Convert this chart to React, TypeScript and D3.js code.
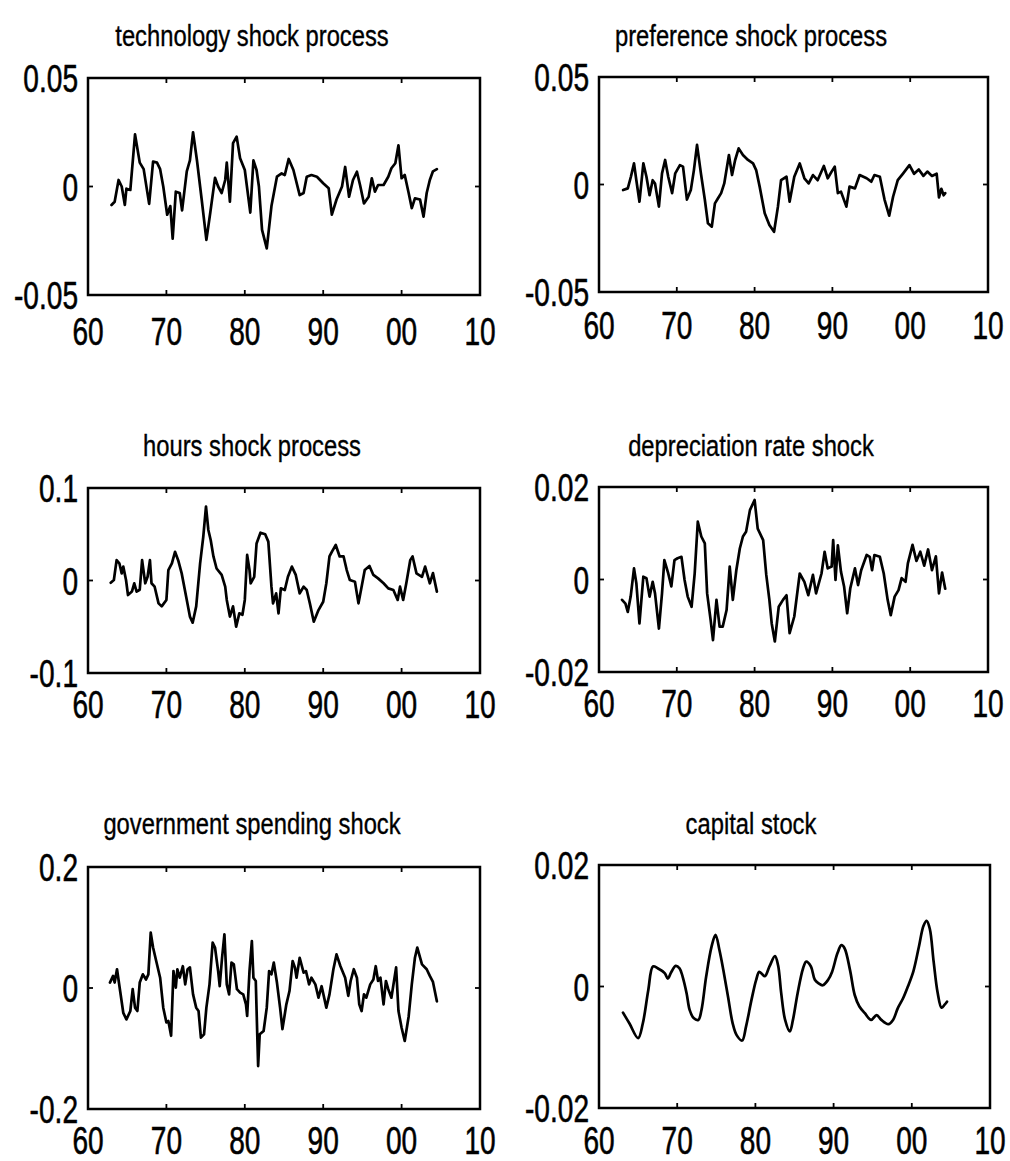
import React from "react";
import * as d3 from "d3";

type Pt = [number, number];

// x axis: two-digit year ticks
const xTicks = [1960, 1970, 1980, 1990, 2000, 2010];
const xTickLabels = ["60", "70", "80", "90", "00", "10"];

const titles = [
  "technology shock process",
  "preference shock process",
  "hours shock process",
  "depreciation rate shock",
  "government spending shock",
  "capital stock",
];

const yLimits = [0.05, 0.05, 0.1, 0.02, 0.2, 0.02];
const yTickLabels = [
  ["0.05", "0", "-0.05"],
  ["0.05", "0", "-0.05"],
  ["0.1", "0", "-0.1"],
  ["0.02", "0", "-0.02"],
  ["0.2", "0", "-0.2"],
  ["0.02", "0", "-0.02"],
];

const technology: Pt[] = [
  [1963.0, -0.0085], [1963.4, -0.007], [1963.9, 0.003], [1964.3, 0.0], [1964.7, -0.0085],
  [1964.9, -0.001], [1965.4, -0.0016], [1966.0, 0.024], [1966.6, 0.011], [1967.1, 0.008],
  [1967.8, -0.008], [1968.3, 0.0115], [1968.8, 0.011], [1969.2, 0.008], [1969.6, 0.0],
  [1970.1, -0.013], [1970.5, -0.009], [1970.8, -0.024], [1971.2, -0.0024], [1971.7, -0.003],
  [1972.0, -0.011], [1972.6, 0.007], [1973.0, 0.012], [1973.4, 0.025], [1973.9, 0.012],
  [1974.5, -0.006], [1975.1, -0.0246], [1975.6, -0.012], [1976.2, 0.004], [1976.6, 0.0],
  [1977.05, -0.003], [1977.5, 0.003], [1977.7, 0.011], [1978.1, -0.007], [1978.5, 0.02],
  [1978.96, 0.023], [1979.4, 0.013], [1980.0, 0.0076], [1980.7, -0.012], [1981.1, 0.012],
  [1981.5, 0.0076], [1981.8, 0.0], [1982.2, -0.02], [1982.8, -0.0285], [1983.4, -0.009],
  [1984.1, 0.0045], [1984.7, 0.006], [1985.1, 0.0053], [1985.6, 0.0127], [1986.2, 0.0076],
  [1987.0, -0.004], [1987.5, -0.003], [1987.9, 0.0045], [1988.5, 0.0053], [1989.2, 0.0045],
  [1990.0, 0.0015], [1990.7, -0.0008], [1991.1, -0.013], [1991.7, -0.006], [1992.4, 0.0],
  [1992.8, 0.009], [1993.3, -0.0047], [1993.8, 0.003], [1994.3, 0.0068], [1994.7, 0.0007],
  [1995.2, -0.0078], [1995.8, -0.0047], [1996.2, 0.0038], [1996.6, -0.0024], [1997.0, 0.0007],
  [1997.7, 0.0007], [1998.3, 0.0045], [1998.7, 0.0084], [1999.2, 0.0107], [1999.6, 0.019],
  [2000.0, 0.0038], [2000.4, 0.0053], [2000.9, -0.003], [2001.3, -0.01], [2001.7, -0.0055],
  [2002.35, -0.006], [2002.8, -0.0139], [2003.2, -0.003], [2003.6, 0.003], [2004.0, 0.007],
  [2004.5, 0.008],
];

const preference: Pt[] = [
  [1963.1, -0.0026], [1963.7, -0.0018], [1964.1, 0.0036], [1964.5, 0.0098], [1964.8, 0.002],
  [1965.2, -0.008], [1965.7, 0.0098], [1966.1, 0.0036], [1966.5, -0.005], [1966.9, 0.002],
  [1967.2, 0.0005], [1967.7, -0.0103], [1968.1, 0.0052], [1968.5, 0.0114], [1968.9, 0.0036],
  [1969.4, -0.004], [1969.8, 0.0052], [1970.4, 0.009], [1970.8, 0.0083], [1971.3, -0.007],
  [1971.8, -0.0026], [1972.2, 0.0067], [1972.6, 0.0184], [1973.1, 0.0052], [1973.6, -0.007],
  [1974.0, -0.018], [1974.5, -0.0196], [1974.9, -0.0088], [1975.3, -0.0064], [1975.7, -0.004],
  [1976.1, 0.0005], [1976.7, 0.0137], [1977.1, 0.0044], [1977.5, 0.0114], [1977.95, 0.0168],
  [1978.5, 0.0137], [1979.15, 0.0114], [1979.8, 0.0098], [1980.2, 0.0067], [1980.65, -0.001],
  [1981.3, -0.0134], [1981.9, -0.0188], [1982.5, -0.022], [1983.0, -0.0103], [1983.4, 0.002],
  [1984.1, 0.0036], [1984.5, -0.008], [1985.1, 0.0036], [1985.8, 0.0098], [1986.4, 0.0029],
  [1986.95, 0.0005], [1987.5, 0.0044], [1988.1, 0.002], [1988.9, 0.0086], [1989.4, 0.0029],
  [1989.9, 0.006], [1990.3, 0.0083], [1990.7, -0.004], [1991.1, -0.0033], [1991.8, -0.0103],
  [1992.2, -0.001], [1992.9, -0.0018], [1993.5, 0.0044], [1994.4, 0.0029], [1995.0, 0.0013],
  [1995.4, 0.0044], [1996.1, 0.0036], [1996.7, -0.007], [1997.3, -0.0145], [1997.8, -0.0057],
  [1998.4, 0.002], [1999.1, 0.0052], [1999.9, 0.009], [2000.5, 0.005], [2001.1, 0.007],
  [2001.7, 0.004], [2002.2, 0.006], [2002.8, 0.004], [2003.4, 0.005], [2003.7, -0.006],
  [2004.0, -0.002], [2004.3, -0.005], [2004.5, -0.004],
];

const hours: Pt[] = [
  [1962.9, -0.0024], [1963.3, 0.0005], [1963.65, 0.022], [1964.0, 0.0186], [1964.3, 0.0077],
  [1964.5, 0.015], [1964.85, 0.0005], [1965.1, -0.0157], [1965.6, -0.012], [1965.9, -0.003],
  [1966.2, -0.012], [1966.6, -0.01], [1966.9, 0.022], [1967.3, -0.003], [1967.6, 0.004],
  [1967.9, 0.022], [1968.1, -0.003], [1968.5, -0.0067], [1969.0, -0.0247], [1969.4, -0.028],
  [1970.0, -0.021], [1970.25, 0.0113], [1970.7, 0.0186], [1971.1, 0.031], [1971.5, 0.022],
  [1971.95, 0.0077], [1972.6, -0.021], [1973.0, -0.039], [1973.35, -0.0456], [1973.8, -0.028],
  [1974.3, 0.0186], [1974.7, 0.047], [1975.05, 0.08], [1975.35, 0.0546], [1975.65, 0.0438],
  [1976.0, 0.026], [1976.4, 0.013], [1977.05, 0.006], [1977.5, -0.0067], [1977.7, -0.021],
  [1978.1, -0.039], [1978.5, -0.028], [1978.9, -0.05], [1979.3, -0.0355], [1979.7, -0.037],
  [1980.0, -0.021], [1980.3, 0.0276], [1980.6, 0.0113], [1980.75, -0.003], [1981.2, 0.004],
  [1981.5, 0.04], [1982.0, 0.0517], [1982.6, 0.05], [1983.0, 0.042], [1983.4, -0.0067],
  [1983.6, -0.0247], [1984.0, -0.0139], [1984.3, -0.0355], [1984.6, -0.0085], [1985.1, -0.0103],
  [1985.5, 0.004], [1986.0, 0.015], [1986.5, 0.006], [1987.0, -0.0139], [1987.5, -0.0067],
  [1987.9, -0.0103], [1988.3, -0.0247], [1988.8, -0.0445], [1989.4, -0.032], [1990.0, -0.023],
  [1990.4, -0.003], [1990.8, 0.026], [1991.1, 0.031], [1991.6, 0.0384], [1992.1, 0.026],
  [1992.6, 0.026], [1993.0, 0.0113], [1993.4, 0.0005], [1994.05, -0.0013], [1994.5, -0.0247],
  [1994.9, -0.0067], [1995.3, 0.0113], [1995.9, 0.0157], [1996.4, 0.006], [1997.0, 0.0023],
  [1997.7, -0.003], [1998.3, -0.0085], [1998.95, -0.0103], [1999.5, -0.021], [1999.8, -0.0067],
  [2000.2, -0.021], [2000.6, -0.003], [2001.1, 0.022], [2001.4, 0.026], [2001.9, 0.0077],
  [2002.6, 0.004], [2003.0, 0.015], [2003.6, -0.003], [2004.0, 0.008], [2004.5, -0.012],
];

const depreciation: Pt[] = [
  [1962.96, -0.0044], [1963.4, -0.0052], [1963.7, -0.007], [1964.07, -0.0037], [1964.5, 0.0024],
  [1964.8, -0.0008], [1965.2, -0.0095], [1965.7, 0.0006], [1966.1, 0.0003], [1966.5, -0.0037],
  [1966.9, -0.0005], [1967.2, -0.003], [1967.7, -0.0106], [1968.1, -0.003], [1968.4, 0.0042],
  [1968.9, 0.0013], [1969.3, -0.0015], [1969.7, 0.0042], [1970.1, 0.0046], [1970.6, 0.0049],
  [1971.0, -0.0001], [1971.4, -0.0037], [1971.9, -0.0059], [1972.3, 0.0013], [1972.7, 0.0125],
  [1973.15, 0.0093], [1973.6, 0.0078], [1973.9, -0.003], [1974.35, -0.0088], [1974.65, -0.0131],
  [1975.1, -0.0044], [1975.5, -0.0102], [1975.9, -0.0102], [1976.4, -0.0066], [1976.8, 0.0028],
  [1977.2, -0.0044], [1977.65, 0.002], [1978.1, 0.0067], [1978.5, 0.0093], [1978.9, 0.0103],
  [1979.4, 0.015], [1980.0, 0.0172], [1980.4, 0.011], [1981.1, 0.0085], [1981.5, 0.001],
  [1981.9, -0.0044], [1982.2, -0.0095], [1982.6, -0.0134], [1983.1, -0.0059], [1983.65, -0.0044],
  [1984.1, -0.0034], [1984.5, -0.0116], [1985.1, -0.008], [1985.8, 0.0013], [1986.4, -0.0005],
  [1986.9, -0.0034], [1987.5, 0.001], [1987.9, -0.003], [1988.6, 0.0013], [1989.0, 0.006],
  [1989.4, 0.0024], [1989.9, 0.0028], [1990.1, 0.0085], [1990.4, -0.0001], [1990.7, 0.0074],
  [1991.1, 0.0017], [1991.5, -0.0015], [1991.9, -0.0073], [1992.3, -0.0019], [1992.9, 0.0024],
  [1993.3, -0.0012], [1993.7, 0.002], [1994.4, 0.0053], [1994.8, 0.0049], [1995.1, 0.002],
  [1995.4, 0.0053], [1996.1, 0.0049], [1996.6, 0.0013], [1997.1, -0.0044], [1997.5, -0.0077],
  [1998.0, -0.0037], [1998.5, -0.0023], [1998.9, 0.0003], [1999.4, -0.0005], [1999.7, 0.0035],
  [2000.3, 0.0075], [2000.8, 0.004], [2001.3, 0.006], [2001.8, 0.003], [2002.3, 0.0065],
  [2002.8, 0.002], [2003.3, 0.005], [2003.7, -0.003], [2004.1, 0.0015], [2004.5, -0.002],
];

const government: Pt[] = [
  [1962.8, 0.009], [1963.2, 0.02], [1963.4, 0.009], [1963.7, 0.031], [1964.1, -0.005],
  [1964.5, -0.041], [1964.9, -0.052], [1965.4, -0.038], [1965.7, -0.002], [1966.0, -0.0325],
  [1966.3, -0.038], [1966.6, 0.009], [1967.0, 0.0226], [1967.4, 0.014], [1967.7, 0.0226],
  [1968.0, 0.0915], [1968.3, 0.067], [1968.7, 0.0446], [1969.2, 0.017], [1969.6, -0.0325],
  [1970.0, -0.057], [1970.25, -0.0545], [1970.6, -0.079], [1970.9, 0.028], [1971.2, 0.0006],
  [1971.4, 0.031], [1971.7, 0.017], [1972.1, 0.036], [1972.4, 0.006], [1972.7, 0.031],
  [1973.0, 0.034], [1973.4, -0.0105], [1973.8, -0.0325], [1974.1, -0.038], [1974.4, -0.082],
  [1974.8, -0.0766], [1975.1, -0.0325], [1975.5, 0.006], [1975.9, 0.075], [1976.2, 0.067],
  [1976.6, 0.028], [1976.8, 0.003], [1977.1, 0.05], [1977.4, 0.0887], [1977.7, 0.006],
  [1978.0, -0.0105], [1978.3, 0.042], [1978.6, 0.039], [1979.0, -0.002], [1979.4, -0.0077],
  [1979.8, -0.0105], [1980.15, -0.027], [1980.3, -0.046], [1980.6, 0.028], [1980.9, 0.0777],
  [1981.1, 0.017], [1981.4, 0.0116], [1981.6, -0.082], [1981.7, -0.129], [1981.9, -0.0766],
  [1982.4, -0.071], [1982.8, -0.0325], [1983.1, 0.028], [1983.4, 0.0226], [1983.7, 0.042],
  [1984.1, 0.009], [1984.5, -0.0325], [1984.8, -0.068], [1985.3, -0.027], [1985.7, -0.005],
  [1986.1, 0.0446], [1986.4, 0.0336], [1986.6, 0.017], [1987.0, 0.05], [1987.5, 0.0253],
  [1987.8, 0.028], [1988.2, 0.006], [1988.5, 0.017], [1989.0, 0.006], [1989.4, -0.016],
  [1989.8, 0.003], [1990.4, -0.0325], [1990.8, -0.0105], [1991.3, 0.031], [1991.7, 0.0556],
  [1992.2, 0.036], [1992.8, 0.017], [1993.2, -0.013], [1993.5, 0.0116], [1993.9, 0.031],
  [1994.3, 0.017], [1994.6, -0.027], [1994.9, -0.038], [1995.2, -0.0105], [1995.5, -0.016],
  [1996.0, 0.006], [1996.4, 0.014], [1996.7, 0.036], [1997.0, 0.0116], [1997.3, 0.017],
  [1997.7, -0.027], [1998.0, 0.0116], [1998.3, -0.002], [1998.7, -0.016], [1998.9, 0.0006],
  [1999.3, 0.034], [1999.6, -0.038], [2000.0, -0.0656], [2000.4, -0.0876], [2000.9, -0.047],
  [2001.3, 0.006], [2001.7, 0.05], [2002.0, 0.0667], [2002.6, 0.039], [2003.2, 0.031],
  [2003.6, 0.02], [2004.0, 0.01], [2004.5, -0.022],
];

const capital: Pt[] = [
  [1963.07, -0.0043], [1963.9, -0.0061], [1965.0, -0.0085], [1965.6, -0.0061], [1966.3, -0.0006],
  [1966.9, 0.0033], [1967.5, 0.003], [1968.4, 0.0022], [1968.8, 0.0013], [1969.25, 0.0024],
  [1969.8, 0.0034], [1970.3, 0.003], [1970.7, 0.0016], [1971.2, -0.0011], [1971.6, -0.0039],
  [1972.1, -0.0052], [1972.7, -0.0055], [1973.1, -0.0039], [1973.7, 0.0016], [1974.4, 0.0066],
  [1974.9, 0.0085], [1975.4, 0.006], [1975.9, 0.0027], [1976.5, -0.0017], [1977.1, -0.0061],
  [1977.6, -0.008], [1978.3, -0.0089], [1978.8, -0.0066], [1979.5, -0.0022], [1980.1, 0.0011],
  [1980.5, 0.0024], [1981.2, 0.0017], [1981.8, 0.0033], [1982.5, 0.005], [1982.9, 0.0035],
  [1983.3, -0.0011], [1983.8, -0.0055], [1984.4, -0.0074], [1984.8, -0.0055], [1985.4, -0.0011],
  [1986.1, 0.003], [1986.5, 0.0041], [1987.1, 0.0033], [1987.6, 0.0011], [1988.1, 0.0005],
  [1988.6, 0.0002], [1989.3, 0.0011], [1989.8, 0.0024], [1990.5, 0.0055], [1991.0, 0.0068],
  [1991.4, 0.0063], [1992.1, 0.0027], [1992.7, -0.0014], [1993.3, -0.0033], [1994.0, -0.0044],
  [1994.8, -0.0055], [1995.5, -0.0047], [1996.1, -0.0055], [1997.0, -0.0062], [1997.6, -0.0055],
  [1998.2, -0.0036], [1998.9, -0.0019], [1999.5, 0.0], [2000.2, 0.0025], [2000.9, 0.0065],
  [2001.5, 0.01], [2001.9, 0.0108], [2002.3, 0.0095], [2002.8, 0.004], [2003.3, -0.001],
  [2003.8, -0.0035], [2004.2, -0.003], [2004.5, -0.0025],
];

const series: Pt[][] = [technology, preference, hours, depreciation, government, capital];

// Axes boxes [left, top, right, bottom] and text anchors for each subplot
const layouts = [
  { box: [88, 78, 480, 295], titleX: 252, titleY: 46, xLabY: 345, yLabX: 78, smooth: false },
  { box: [599, 77, 988, 292], titleX: 751, titleY: 46, xLabY: 339, yLabX: 589, smooth: false },
  { box: [88, 488, 480, 673], titleX: 252, titleY: 456, xLabY: 718, yLabX: 78, smooth: false },
  { box: [599, 487, 988, 672], titleX: 751, titleY: 456, xLabY: 717, yLabX: 589, smooth: false },
  { box: [88, 867, 480, 1109], titleX: 252, titleY: 834, xLabY: 1154, yLabX: 78, smooth: false },
  { box: [599, 865, 990, 1108], titleX: 751, titleY: 834, xLabY: 1154, yLabX: 589, smooth: true },
];

const FONT = "'Liberation Sans', Arial, Helvetica, sans-serif";

function Panel({ i }: { i: number }) {
  const L = layouts[i];
  const [x0, y0, x1, y1] = L.box;
  const lim = yLimits[i];
  const x = d3.scaleLinear().domain([1960, 2010]).range([x0, x1]);
  const y = d3.scaleLinear().domain([-lim, lim]).range([y1, y0]);
  const line = d3
    .line<Pt>()
    .x((d) => x(d[0]))
    .y((d) => y(d[1]))
    .curve(L.smooth ? d3.curveCatmullRom.alpha(0.5) : d3.curveLinear);
  const yVals = [lim, 0, -lim];
  const tickLen = 5;
  return (
    <g>
      <text
        transform={`translate(${L.titleX},${L.titleY}) scale(0.82,1)`}
        textAnchor="middle"
        fontFamily={FONT}
        fontSize={29}
        fill="#000"
        stroke="#000"
        strokeWidth={0.35}
      >
        {titles[i]}
      </text>
      <path
        d={line(series[i]) ?? ""}
        fill="none"
        stroke="#000"
        strokeWidth={2.7}
        strokeLinejoin="round"
        strokeLinecap="round"
      />
      <rect x={x0} y={y0} width={x1 - x0} height={y1 - y0} fill="none" stroke="#000" strokeWidth={2.5} />
      {xTicks.map((t) => (
        <g key={t}>
          <line x1={x(t)} x2={x(t)} y1={y1} y2={y1 - tickLen} stroke="#000" strokeWidth={1.8} />
          <line x1={x(t)} x2={x(t)} y1={y0} y2={y0 + tickLen} stroke="#000" strokeWidth={1.8} />
        </g>
      ))}
      {yVals.map((v) => (
        <g key={v}>
          <line x1={x0} x2={x0 + tickLen} y1={y(v)} y2={y(v)} stroke="#000" strokeWidth={1.8} />
          <line x1={x1} x2={x1 - tickLen} y1={y(v)} y2={y(v)} stroke="#000" strokeWidth={1.8} />
        </g>
      ))}
      {xTicks.map((t, k) => (
        <text
          key={t}
          transform={`translate(${x(t)},${L.xLabY}) scale(0.72,1)`}
          textAnchor="middle"
          fontFamily={FONT}
          fontSize={39}
          fill="#000"
          stroke="#000"
          strokeWidth={0.6}
        >
          {xTickLabels[k]}
        </text>
      ))}
      {yVals.map((v, k) => (
        <text
          key={v}
          transform={`translate(${L.yLabX},${y(v) + 14}) scale(0.72,1)`}
          textAnchor="end"
          fontFamily={FONT}
          fontSize={39}
          fill="#000"
          stroke="#000"
          strokeWidth={0.6}
        >
          {yTickLabels[i][k]}
        </text>
      ))}
    </g>
  );
}

export default function App() {
  return (
    <svg
      width={1010}
      height={1161}
      viewBox="0 0 1010 1161"
      style={{ position: "absolute", left: 0, top: 0, background: "#fff" }}
    >
      <rect x={0} y={0} width={1010} height={1161} fill="#fff" />
      {series.map((_, i) => (
        <Panel key={i} i={i} />
      ))}
    </svg>
  );
}
